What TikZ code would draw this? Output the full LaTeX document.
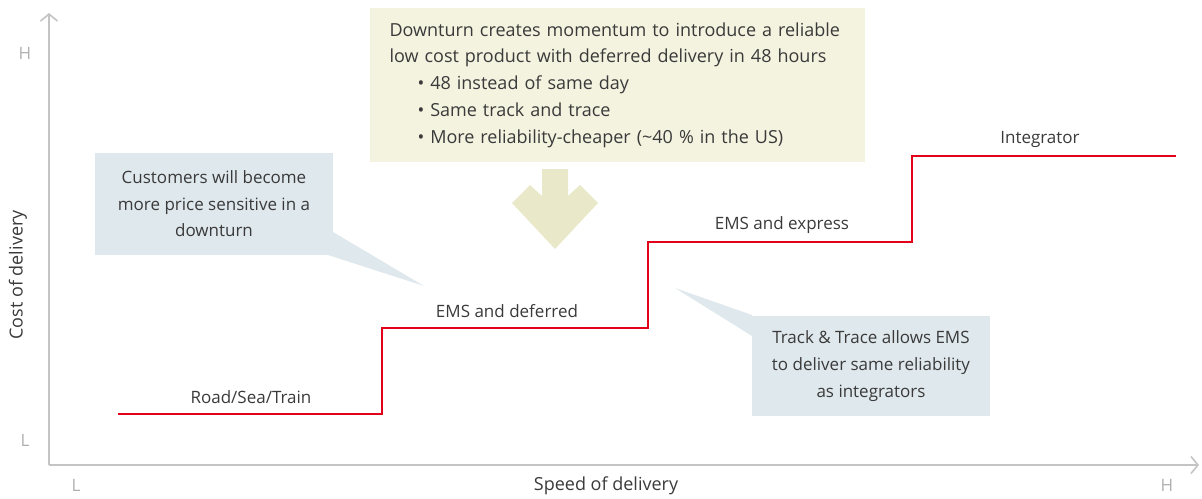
\documentclass[tikz,border=0pt]{standalone}
\usepackage{fontspec}
\setmainfont{Open Sans}
\usepackage{xcolor}
\usetikzlibrary{arrows.meta}

\definecolor{axisgray}{HTML}{C4C4C4}
\definecolor{lblgray}{HTML}{B0B0B0}
\definecolor{txtgray}{HTML}{3A3A3A}
\definecolor{stepred}{HTML}{E2001A}
\definecolor{notebox}{HTML}{F4F3E0}
\definecolor{notearrow}{HTML}{E9E8C8}
\definecolor{callblue}{HTML}{DFE8EC}

\begin{document}
\begin{tikzpicture}[x=1pt,y=-1pt,line width=1.00pt,
    every node/.style={font=\fontsize{17pt}{26.6pt}\selectfont,text=txtgray},
    big/.style={font=\fontsize{18pt}{26.7pt}\selectfont},
    axis/.style={draw=axisgray,line width=1.6pt,-{Straight Barb[length=7pt,width=17pt,line width=1.6pt]}},
    tick/.style={text=lblgray},
    callout/.style={fill=callblue,minimum width=238pt,align=center,inner sep=0pt},
    steplabel/.style={inner sep=0pt}]
      \useasboundingbox (0,0) rectangle (1202,498);

      % axes
      \coordinate (o) at (49,465);
      \coordinate (ytop) at (49,13);
      \coordinate (xend) at (1199,465);
      \draw [axis] (o) -- (ytop);
      \draw [axis] (o) -- (xend);
      \node [tick] (yH) at (25,53) {H};
      \node [tick] (yL) at (25,440) {L};
      \node [tick] (xL) at (76,485) {L};
      \node [tick] (xH) at (1167,485) {H};
      \node [big,rotate=90] (ylab) at (18,275) {Cost of delivery};
      \node [big] (xlab) at (606,486) {Speed of delivery};

      % steps
      \coordinate (c0) at (118,414);
      \coordinate (c1) at (382,328);
      \coordinate (c2) at (648,242);
      \coordinate (c3) at (912,156);
      \coordinate (c4) at (1176,156);
      \draw [stepred,line width=2.8pt] (c0) -| (c1) -| (c2) -| (c3) -- (c4);
      \node [steplabel] (road) at (251,397) {Road/Sea/Train};
      \node [steplabel] (def) at (507,311) {EMS and deferred};
      \node [steplabel] (exp) at (782,225) {EMS and express};
      \node [steplabel] (integ) at (1040,139) {Integrator};

      % downturn note
      \node [big,fill=notebox,minimum width=495pt,minimum height=154pt,text width=456pt,
             align=left,inner sep=0pt] (note) at (617.5,85) {%
        Downturn creates momentum to introduce a reliable\\
        low cost product with deferred delivery in 48 hours\\
        \hspace*{28pt}• 48 instead of same day\\
        \hspace*{28pt}• Same track and trace\\
        \hspace*{28pt}• More reliability-cheaper (\textasciitilde40 \% in the US)
      };
      \fill [notearrow] (542,169) -- (568,169) -- (568,196) -- (580,185) -- (598,203)
        -- (555,249) -- (512,203) -- (530,185) -- (542,196) -- cycle;

      % callouts
      \coordinate (tip1) at (424,286);
      \coordinate (tip2) at (675,288);
      \fill [callblue] (333,232) -- (tip1) -- (328,255) -- cycle;
      \fill [callblue] (752,315) -- (tip2) -- (752,336) -- cycle;
      \node [callout,minimum height=102pt] (cust) at (214,204) {%
        Customers will become\\ more price sensitive in a\\ downturn};
      \node [callout,minimum height=100pt] (track) at (871,366) {%
        Track \& Trace allows EMS\\ to deliver same reliability\\ as integrators};
    \end{tikzpicture}
\end{document}
